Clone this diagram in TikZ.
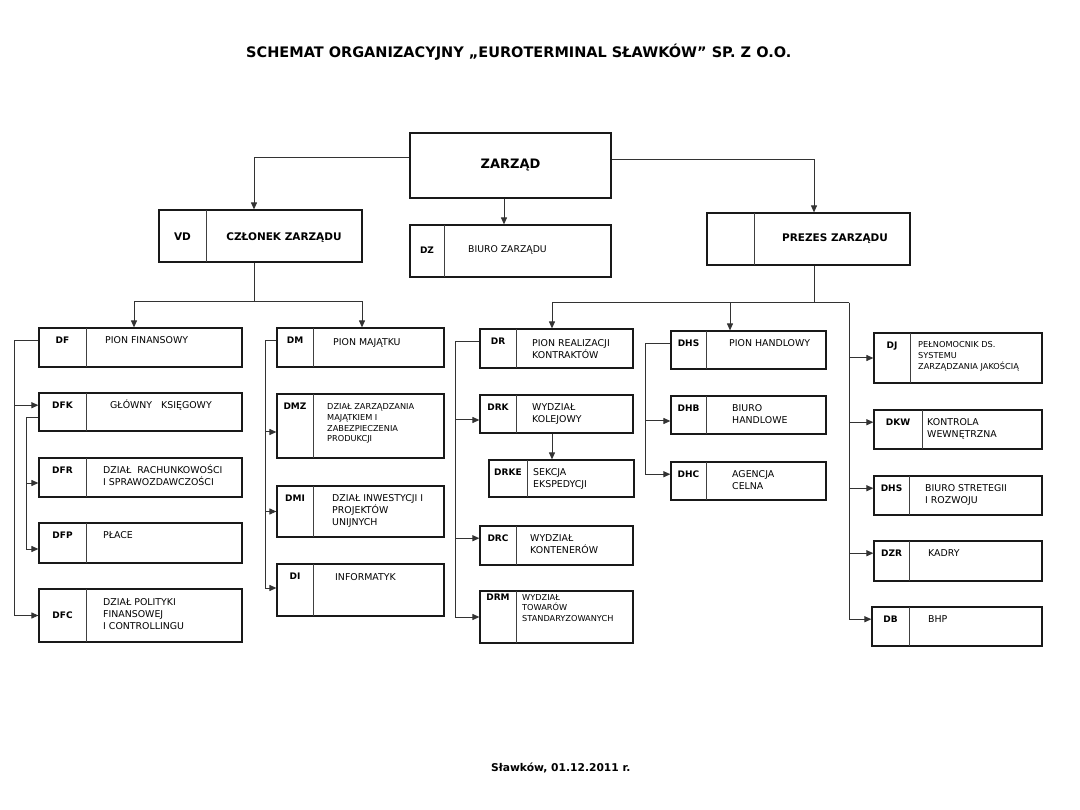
\documentclass[tikz,border=0pt]{standalone}
\usepackage{fontspec}
\setmainfont{DejaVu Sans}
\usetikzlibrary{arrows.meta}

% one box: name, x1, y1, x2, y2, divider x, code, text options, text
\newcommand{\orgunit}[9]{%
  \node[unit,minimum width={#4-#2},minimum height={#5-#3}] (#1) at ({(#2+#4)/2},{(#3+#5)/2}) {};
  \draw[divider] (#6,#3) -- (#6,#5);
  \node[code] (#1-id) at ({(#2+#6)/2},{#3+15.5}) {#7};
  \node[txt,#8] (#1-txt) {\begin{tabular}[t]{@{}l@{}}#9\end{tabular}};
}

\begin{document}
\begin{tikzpicture}[
  x=1pt,y=-1pt,
  unit/.style={draw=black!90,line width=1.2pt,inner sep=0pt},
  divider/.style={draw=black!75,line width=0.8pt},
  code/.style={font=\bfseries\fontsize{9}{11}\selectfont,anchor=base,inner sep=0pt},
  head/.style={font=\bfseries\fontsize{10.5}{12}\selectfont,inner sep=0pt},
  txt/.style={font=\fontsize{9.4}{11.8}\selectfont,anchor=base west,inner sep=0pt},
  sm/.style={font=\fontsize{8.2}{10.5}\selectfont},
  ln/.style={draw=black!80,line width=1pt},
  ar/.style={ln,-{Triangle[length=7pt,width=6pt]}},
]
\path[fill=white] (0,0) rectangle (1080,810);
\node[font=\bfseries\fontsize{14.5}{17}\selectfont,anchor=base west,inner sep=0pt] (title) at (246,57.3)
  {SCHEMAT ORGANIZACYJNY „EUROTERMINAL SŁAWKÓW” SP. Z O.O.};

% zarzad
\node[unit,minimum width=201,minimum height=65,font=\bfseries\fontsize{13}{15}\selectfont] (zarzad) at (510.5,165.5) {ZARZĄD};
\node[unit,minimum width=203,minimum height=52] (vd) at (260.5,236) {};
\draw[divider] (206,210) -- (206,262);
\node[head] (vd-id) at (182.5,237) {VD};
\node[head] (vd-txt) at (284,238) {CZŁONEK ZARZĄDU};
\node[unit,minimum width=201,minimum height=52] (dz) at (510.5,251) {};
\draw[divider] (444.5,225) -- (444.5,277);
\node[code,anchor=center] (dz-id) at (427,250) {DZ};
\node[txt,anchor=west,font=\fontsize{9.3}{11}\selectfont] (dz-txt) at (468,250) {BIURO ZARZĄDU};
\node[unit,minimum width=203,minimum height=52] (prezes) at (808.5,239) {};
\draw[divider] (754,213) -- (754,265);
\node[head] (prezes-txt) at (835,239) {PREZES ZARZĄDU};

% pion finansowy
\orgunit{df}{39}{328}{242}{367}{86}{DF}{at={(105,343.5)}}{PION FINANSOWY}
\orgunit{dfk}{39}{393}{242}{431}{86}{DFK}{at={(110,408.5)}}{GŁÓWNY~~~KSIĘGOWY}
\orgunit{dfr}{39}{458}{242}{497}{86}{DFR}{at={(103,473.5)}}{DZIAŁ~~RACHUNKOWOŚCI\\I SPRAWOZDAWCZOŚCI}
\orgunit{dfp}{39}{523}{242}{563}{86}{DFP}{at={(103,538.5)}}{PŁACE}
\orgunit{dfc}{39}{589}{242}{642}{86}{\raisebox{-14pt}{DFC}}{at={(103,605.5)}}{DZIAŁ POLITYKI\\FINANSOWEJ\\I CONTROLLINGU}
% pion majatku
\orgunit{dm}{277}{328}{444}{367}{313}{DM}{at={(333,345.5)}}{PION MAJĄTKU}
\orgunit{dmz}{277}{394}{444}{458}{313}{DMZ}{sm,at={(327,410)}}{DZIAŁ ZARZĄDZANIA\\MAJĄTKIEM I\\ZABEZPIECZENIA\\PRODUKCJI}
\orgunit{dmi}{277}{486}{444}{537}{313}{DMI}{at={(332,501.5)}}{DZIAŁ INWESTYCJI I\\PROJEKTÓW\\UNIJNYCH}
\orgunit{di}{277}{564}{444}{616}{313}{DI}{at={(335,580.5)}}{INFORMATYK}
% pion realizacji kontraktow
\orgunit{dr}{480}{329}{633}{368}{516}{DR}{at={(532,346.5)}}{PION REALIZACJI\\KONTRAKTÓW}
\orgunit{drk}{480}{395}{633}{433}{516}{DRK}{at={(532,410.5)}}{WYDZIAŁ\\KOLEJOWY}
\orgunit{drke}{489}{460}{634}{497}{527}{DRKE}{at={(533,475.5)}}{SEKCJA\\EKSPEDYCJI}
\orgunit{drc}{480}{526}{633}{565}{516}{DRC}{at={(530,541.5)}}{WYDZIAŁ\\KONTENERÓW}
\orgunit{drm}{480}{591}{633}{643}{516}{\raisebox{6pt}{DRM}}{sm,at={(522,600)}}{WYDZIAŁ\\TOWARÓW\\STANDARYZOWANYCH}
% pion handlowy
\orgunit{dhs}{671}{331}{826}{369}{706}{DHS}{at={(729,346.5)}}{PION HANDLOWY}
\orgunit{dhb}{671}{396}{826}{434}{706}{DHB}{at={(732,411.5)}}{BIURO\\HANDLOWE}
\orgunit{dhc}{671}{462}{826}{500}{706}{DHC}{at={(732,477.5)}}{AGENCJA\\CELNA}
% prezes, stanowiska
\orgunit{dj}{874}{333}{1042}{383}{910}{DJ}{sm,at={(918,348)}}{PEŁNOMOCNIK DS.\\SYSTEMU\\ZARZĄDZANIA JAKOŚCIĄ}
\orgunit{dkw}{874}{410}{1042}{449}{922}{DKW}{at={(927,425.5)}}{KONTROLA\\WEWNĘTRZNA}
\orgunit{dbsr}{874}{476}{1042}{515}{909}{DHS}{at={(925,491.5)}}{BIURO STRETEGII\\I ROZWOJU}
\orgunit{dzr}{874}{541}{1042}{581}{909}{DZR}{at={(928,556.5)}}{KADRY}
\orgunit{db}{872}{607}{1042}{646}{909}{DB}{at={(928,622.5)}}{BHP}

% connectors
\draw[ar] ([yshift=7.5pt]zarzad.west) -| ([xshift=-6.5pt]vd.north);
\draw[ar] ([xshift=-6.5pt]zarzad.south) -- ([xshift=-6.5pt]dz.north);
\draw[ar] ([yshift=5.5pt]zarzad.east) -| ([xshift=5.5pt]prezes.north);
\coordinate (vdbus) at (254,302);
\draw[ln] (vd.south -| vdbus) -- (vdbus);
\draw[ar] (vdbus) -| ([xshift=-6.5pt]df.north);
\draw[ar] (vdbus) -| ([xshift=1.5pt]dm.north);
\coordinate (przbus) at (814,303);
\coordinate (trunk) at (849,303);
\draw[ln] (prezes.south -| przbus) -- (przbus) -- (trunk);
\draw[ar] (przbus) -| ([xshift=-4.5pt]dr.north);
\draw[ar] (przbus) -| ([xshift=-18.5pt]dhs.north);
\draw[ar] (trunk) |- (dj.west);
\draw[ar] (trunk) |- (dkw.west |- dkw-id);
\draw[ar] (trunk) |- (dbsr.west |- dbsr-id);
\draw[ar] (trunk) |- (dzr.west |- dzr-id);
\draw[ar] (trunk) |- (db.west |- db-id);
\draw[ar] (df.west |- df-id) -- ++(-24,0) |- (dfk.west |- dfk-id);
\draw[ar] (df.west |- df-id) -- ++(-24,0) |- (dfc.west);
\draw[ar] ([yshift=-6pt]dfk.west) -- ++(-12,0) |- ([yshift=-5.5pt]dfr.west);
\draw[ar] ([yshift=-6pt]dfk.west) -- ++(-12,0) |- ([yshift=-6pt]dfp.west);
\draw[ar] (dm.west |- dm-id) -- ++(-11,0) |- ([yshift=-6pt]dmz.west);
\draw[ar] (dm.west |- dm-id) -- ++(-11,0) |- (dmi.west);
\draw[ar] (dm.west |- dm-id) -- ++(-11,0) |- ([yshift=2pt]di.west);
\draw[ar] (dr.west |- dr-id) -- ++(-24,0) |- ([yshift=-6pt]drk.west);
\draw[ar] (dr.west |- dr-id) -- ++(-24,0) |- (drc.west |- drc-id);
\draw[ar] (dr.west |- dr-id) -- ++(-24,0) |- (drm.west);
\draw[ar] ([xshift=-4.5pt]drk.south) -- ([xshift=-4.5pt]drk.south |- drke.north);
\draw[ar] (dhs.west |- dhs-id) -- ++(-25,0) |- ([yshift=-6pt]dhb.west);
\draw[ar] (dhs.west |- dhs-id) -- ++(-25,0) |- (dhc.west |- dhc-id);

\node[font=\bfseries\fontsize{10.7}{13}\selectfont,anchor=base west,inner sep=0pt] (date) at (491,771) {Sławków, 01.12.2011 r.};
\end{tikzpicture}
\end{document}
